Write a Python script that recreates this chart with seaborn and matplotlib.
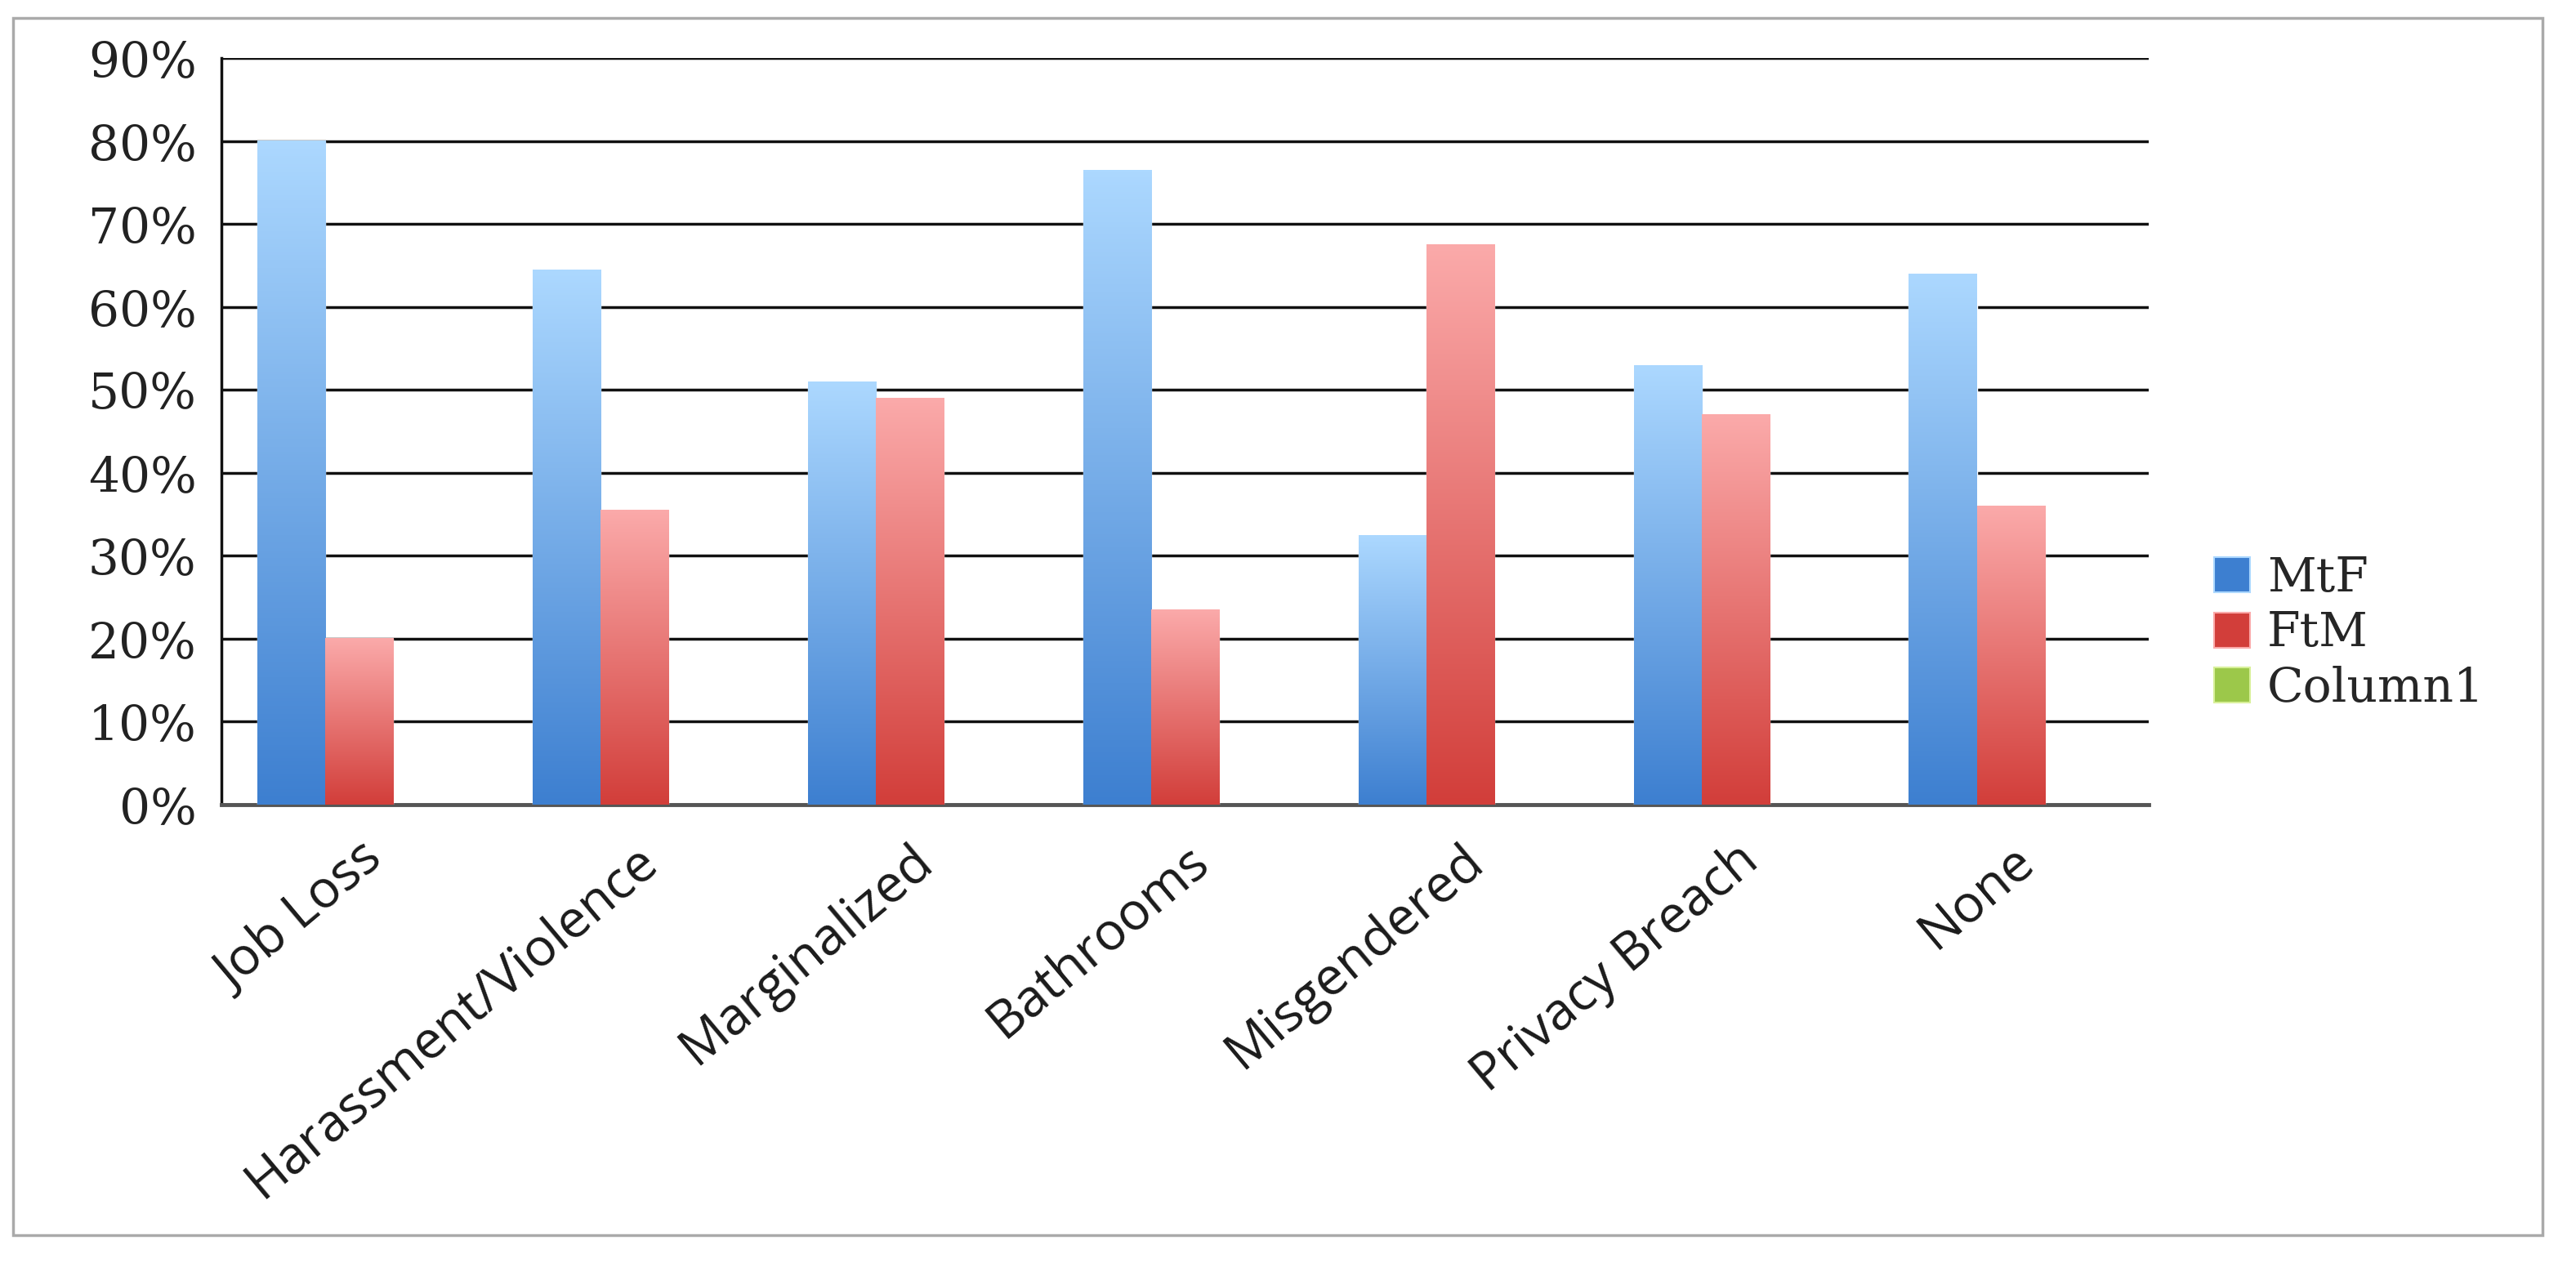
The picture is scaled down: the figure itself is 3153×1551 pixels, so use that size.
import numpy as np
import pandas as pd
import seaborn as sns
import matplotlib.pyplot as plt
import matplotlib.transforms as mtransforms
from matplotlib.patches import Patch, Rectangle
from matplotlib.colors import LinearSegmentedColormap
from matplotlib.ticker import PercentFormatter, MultipleLocator, FixedLocator

categories = ["Job Loss", "Harassment/Violence", "Marginalized", "Bathrooms",
              "Misgendered", "Privacy Breach", "None"]
mtf = [0.80, 0.645, 0.51, 0.765, 0.325, 0.53, 0.64]
ftm = [0.20, 0.355, 0.49, 0.235, 0.675, 0.47, 0.36]
column1 = [0, 0, 0, 0, 0, 0, 0]
series = ["MtF", "FtM", "Column1"]

# top (light) / bottom (dark) colours for the gradient bars
grad = {"MtF": ("#acd8ff", "#3d7fd0"),
        "FtM": ("#fbaaaa", "#d23e3a"),
        "Column1": ("#d8f09a", "#9cc84a")}

df = pd.DataFrame({
    "cat": categories * 3,
    "val": mtf + ftm + column1,
    "series": ["MtF"] * 7 + ["FtM"] * 7 + ["Column1"] * 7,
})

sns.set_style("white")
plt.rcParams['font.family'] = ['DejaVu Sans']

fig = plt.figure(figsize=(31.53, 15.51), dpi=100)
ax = fig.add_axes([0.086, 0.365, 0.748, 0.589])

sns.barplot(data=df, x="cat", y="val", hue="series", hue_order=series,
            order=categories, width=0.74, palette=[grad[s][1] for s in series],
            errorbar=None, legend=False, ax=ax, zorder=3)

# paint gradients over each bar
for cont, s in zip(ax.containers, series):
    cmap = LinearSegmentedColormap.from_list(s, [grad[s][1], grad[s][0]])
    for bar in cont:
        h = bar.get_height()
        if h <= 0:
            bar.set_visible(False)
            continue
        x0 = bar.get_x()
        w = bar.get_width()
        img = np.linspace(0, 1, 256).reshape(-1, 1)
        ax.imshow(img, cmap=cmap, origin="lower", aspect="auto",
                  extent=[x0, x0 + w, 0, h], zorder=4)

ax.set_xlim(-0.5, 6.5)
ax.set_ylim(0, 0.9)
ax.yaxis.set_major_locator(MultipleLocator(0.1))
ax.yaxis.set_major_formatter(PercentFormatter(1.0, decimals=0))
ax.grid(axis="y", color="#111111", linewidth=2.5, zorder=0)
ax.set_axisbelow(True)

ax.set_xlabel("")
ax.set_ylabel("")
ax.set_xticks(range(7))
ax.set_xticklabels(categories, rotation=40, ha="right", rotation_mode="anchor",
                   fontsize=46, color="#1a1a1a", family="Open Sans")
shift = mtransforms.ScaledTranslation(-0.22, -0.02, fig.dpi_scale_trans)
for lbl in ax.get_xticklabels():
    lbl.set_transform(lbl.get_transform() + shift)
ax.xaxis.set_minor_locator(FixedLocator(np.arange(-0.5, 7, 1)))
ax.tick_params(axis="x", which="major", length=0, pad=26)
ax.tick_params(axis="x", which="minor", length=18, width=2, color="#222222")
ax.tick_params(axis="y", length=18, width=2.5, color="#111111",
               labelsize=43, labelcolor="#222222", pad=4)
for lbl in ax.get_yticklabels():
    lbl.set_family("DejaVu Serif")

for side in ["top", "right"]:
    ax.spines[side].set_visible(False)
ax.spines["left"].set_color("#111111")
ax.spines["left"].set_linewidth(2.5)
ax.spines["bottom"].set_color("#555555")
ax.spines["bottom"].set_linewidth(3.5)

handles = [Patch(facecolor=grad[s][1], edgecolor=grad[s][0], linewidth=1.5, label=s)
           for s in series]
fig.legend(handles=handles, loc="center left", bbox_to_anchor=(0.843, 0.5),
           frameon=False, prop={"family": "DejaVu Serif", "size": 42},
           handlelength=0.75, handleheight=0.75, handletextpad=0.35, labelspacing=0.2)

fig.patches.append(Rectangle((0.005, 0.025), 0.982, 0.961, transform=fig.transFigure,
                             fill=False, edgecolor="#aaaaaa", linewidth=2.5))

fig.savefig("out.png", dpi=100, facecolor="white")
